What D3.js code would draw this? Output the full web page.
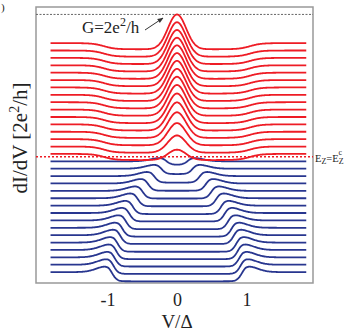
<!DOCTYPE html>
<html>
<head>
<meta charset="utf-8" />
<script src="https://d3js.org/d3.v7.min.js"></script>
<style>
  body { margin: 0; background: #fff; }
  text { font-family: "Liberation Serif", "Times New Roman", serif; }
</style>
</head>
<body>
<div id="chart"></div>
<script>
// x ticks
var vTicks = [-1, 0, 1];

// red traces (top to bottom): zero-bias peak height above normal level [2e2/h]
var redPeak = [0.75, 0.74, 0.73, 0.72, 0.715, 0.705, 0.695, 0.68, 0.665, 0.645, 0.615, 0.575, 0.51, 0.42, 0.29, 0.11];

// blue traces (top to bottom): coherence peak position [V/Delta], peak height, gap floor depth
var bluePos = [0.22, 0.29, 0.39, 0.48, 0.56, 0.63, 0.70, 0.75, 0.80, 0.85, 0.88, 0.92, 0.94, 0.96, 0.98, 1.0];
var blueHeight = [0.09, 0.11, 0.12, 0.13, 0.13, 0.14, 0.14, 0.15, 0.15, 0.15, 0.16, 0.16, 0.16, 0.16, 0.16, 0.16];
var blueFloor = [0.09, 0.14, 0.17, 0.19, 0.20, 0.21, 0.22, 0.22, 0.23, 0.23, 0.23, 0.24, 0.24, 0.24, 0.24, 0.24];

var normalG = 0.25;     // conductance outside the gap
var redDip = 0.16;      // in-gap dip of red traces
var offsetStep = 0.193; // vertical offset between traces
var quantum = 1;        // G = 2e2/h
var criticalLevel = 3.265; // E_Z = E_Z^c separator (offset units)
var vRange = [-1.82, 1.86];

var width = 349, height = 332;
var svg = d3.select("#chart").append("svg")
    .attr("width", width).attr("height", height);

var x = d3.scaleLinear().domain([-2.029, 1.957]).range([36, 313]);
var y = d3.scaleLinear().domain([-0.035, 7.177]).range([283, 7]);

var nTraces = redPeak.length + bluePos.length;

// voltage grid
var vs = d3.range(vRange[0], vRange[1] + 0.0001, 0.01);

function inner(a, c, w) { return 1 / (1 + Math.exp((a - c) / w)); }

function redTrace(i) {
    var off = (nTraces - 1 - i) * offsetStep;
    var s = 0.13;
    var amp = redPeak[i] + redDip * inner(0, 1.05, 0.08);
    return vs.map(function(v) {
        var g = normalG - redDip * inner(Math.abs(v), 1.05, 0.08)
            + amp * Math.exp(-v * v / (2 * s * s));
        return [v, g + off];
    });
}

function blueTrace(j) {
    var off = (nTraces - 1 - (redPeak.length + j)) * offsetStep;
    var p = bluePos[j], a = blueHeight[j], dd = blueFloor[j];
    return vs.map(function(v) {
        var u = Math.abs(v) - p;
        var s = u < 0 ? 0.07 : 0.15;
        var g = normalG + a * Math.exp(-u * u / (2 * s * s))
            - dd * inner(Math.abs(v), p - 0.06, 0.035);
        return [v, g + off];
    });
}

var line = d3.line()
    .x(function(d) { return x(d[0]); })
    .y(function(d) { return y(d[1]); });

// frame
svg.append("rect")
    .attr("x", 36).attr("y", 7)
    .attr("width", 277).attr("height", 276)
    .attr("fill", "none").attr("stroke", "#999").attr("stroke-width", 1.5);

// quantized level line
var topLevel = quantum + (nTraces - 1) * offsetStep;
svg.append("line")
    .attr("x1", x.range()[0]).attr("x2", x.range()[1])
    .attr("y1", y(topLevel)).attr("y2", y(topLevel))
    .attr("stroke", "#666").attr("stroke-width", 1)
    .attr("stroke-dasharray", "2,1.5");

var traces = svg.append("g");
traces.selectAll("path.blue")
    .data(d3.range(bluePos.length))
    .enter().append("path")
    .attr("class", "blue")
    .attr("d", function(j) { return line(blueTrace(j)); })
    .attr("fill", "none")
    .attr("stroke", "#28368f")
    .attr("stroke-width", 1.8);

traces.selectAll("path.red")
    .data(d3.range(redPeak.length))
    .enter().append("path")
    .attr("class", "red")
    .attr("d", function(i) { return line(redTrace(i)); })
    .attr("fill", "none")
    .attr("stroke", "#ee1c25")
    .attr("stroke-width", 1.8);

// critical field separator
svg.append("line")
    .attr("x1", x.range()[0]).attr("x2", x.range()[1])
    .attr("y1", y(criticalLevel)).attr("y2", y(criticalLevel))
    .attr("stroke", "#ee1c25").attr("stroke-width", 1.6)
    .attr("stroke-dasharray", "2,2");

var ez = svg.append("text")
    .attr("x", 315).attr("y", y(criticalLevel) + 5)
    .attr("font-size", 10.5).attr("fill", "#222");
ez.append("tspan").text("E");
ez.append("tspan").attr("font-size", 8).attr("dy", 2).text("Z");
ez.append("tspan").attr("dy", -2).text("=E");
ez.append("tspan").attr("font-size", 8).attr("dy", 2).text("Z");
ez.append("tspan").attr("font-size", 8).attr("dx", -5).attr("dy", -9).text("c");

// annotation
var ann = svg.append("text")
    .attr("x", 82).attr("y", 33)
    .attr("font-size", 17).attr("fill", "#222");
ann.append("tspan").text("G=2e");
ann.append("tspan").attr("font-size", 12).attr("dy", -7).text("2");
ann.append("tspan").attr("dy", 7).text("/h");

svg.append("defs").append("marker")
    .attr("id", "arr").attr("viewBox", "0 0 10 10")
    .attr("refX", 9).attr("refY", 5)
    .attr("markerWidth", 6).attr("markerHeight", 6)
    .attr("orient", "auto")
    .append("path").attr("d", "M0,1 L10,5 L0,9 Z").attr("fill", "#333");

svg.append("line")
    .attr("x1", 145).attr("y1", 30).attr("x2", 163).attr("y2", 18)
    .attr("stroke", "#333").attr("stroke-width", 1)
    .attr("marker-end", "url(#arr)");

// x axis
var xAxis = d3.axisBottom(x)
    .tickValues(vTicks)
    .tickSize(0)
    .tickPadding(10)
    .tickFormat(function(d) { return String(d); });

var gx = svg.append("g")
    .attr("transform", "translate(0,283)")
    .call(xAxis);
gx.select(".domain").remove();
gx.selectAll("text")
    .attr("font-size", 18)
    .attr("fill", "#222")
    .style("font-family", "'Liberation Serif', 'Times New Roman', serif");

svg.append("text")
    .attr("x", 177).attr("y", 328)
    .attr("text-anchor", "middle")
    .attr("font-size", 19).attr("fill", "#222")
    .text("V/\u0394");

// y label
var yl = svg.append("text")
    .attr("transform", "translate(27,138) rotate(-90)")
    .attr("text-anchor", "middle")
    .attr("font-size", 21).attr("fill", "#222");
yl.append("tspan").text("dI/dV [2e");
yl.append("tspan").attr("font-size", 14).attr("dy", -8).text("2");
yl.append("tspan").attr("dy", 8).text("/h]");

// panel letter (only its closing bracket shows in the original)
svg.append("text")
    .attr("x", 1).attr("y", 11)
    .attr("font-size", 11).attr("fill", "#222")
    .text(")");
</script>
</body>
</html>
